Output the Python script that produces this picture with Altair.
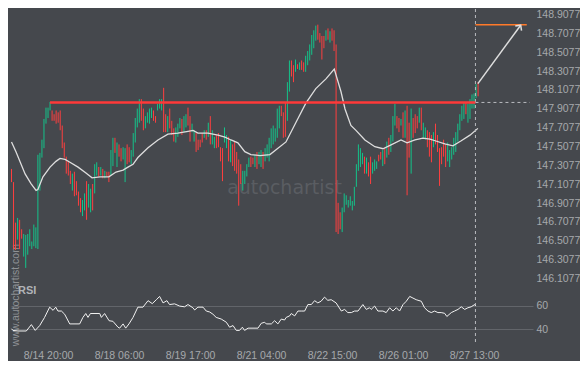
import altair as alt
import pandas as pd

# ---------------- data ----------------
# hourly candles, index 0..230 ; u = up (green), d = down (red)
hi = [
147.27,147.13,146.70,146.75,146.73,146.63,146.58,146.57,146.58,146.63,
146.50,146.68,146.65,147.42,147.44,147.58,147.80,147.92,147.92,147.98,
147.89,147.85,147.89,147.87,147.89,147.73,147.55,147.40,147.35,147.25,
147.22,147.24,147.14,147.03,146.96,146.94,147.01,147.14,147.11,147.06,
147.11,147.32,147.34,147.29,147.29,147.27,147.25,147.24,147.24,147.47,
147.60,147.60,147.55,147.53,147.49,147.50,147.49,147.53,147.50,147.47,
147.65,147.81,147.91,148.01,148.01,147.91,147.83,147.87,147.91,147.92,
147.89,147.83,147.96,148.01,148.01,148.13,147.85,147.83,147.91,147.78,
147.70,147.71,147.75,147.81,147.80,147.83,147.85,147.92,147.83,147.75,
147.68,147.65,147.58,147.58,147.65,147.68,147.68,147.76,147.83,147.68,
147.61,147.63,147.65,147.50,147.49,147.71,147.63,147.61,147.58,147.53,
147.56,147.45,147.37,147.32,147.25,147.25,147.32,147.39,147.40,147.39,
147.42,147.45,147.45,147.47,147.45,147.49,147.53,147.60,147.70,147.73,
147.70,147.91,147.94,147.94,147.87,147.97,148.19,148.42,148.42,148.37,
148.43,148.38,148.40,148.42,148.40,148.47,148.52,148.59,148.69,148.74,
148.79,148.80,148.71,148.68,148.68,148.74,148.76,148.73,148.76,148.74,
148.59,146.91,146.81,146.86,147.01,146.99,146.94,146.98,146.93,147.08,
147.32,147.53,147.49,147.44,147.40,147.39,147.34,147.40,147.34,147.37,
147.35,147.42,147.45,147.47,147.49,147.56,147.60,147.63,147.83,147.96,
147.83,147.81,147.80,147.87,147.89,147.94,147.76,147.91,147.81,147.85,
147.83,147.92,147.92,147.76,147.71,147.68,147.66,147.63,147.66,147.75,
147.63,147.49,147.50,147.58,147.53,147.55,147.47,147.50,147.60,147.66,
147.75,147.85,147.94,147.97,147.97,147.96,148.01,148.06,148.07,148.17,
148.19]
lo = [
147.13,146.42,146.41,146.52,146.42,146.53,146.34,146.22,146.36,146.45,
146.42,146.45,146.43,146.42,147.04,147.39,147.49,147.75,147.81,147.89,
147.78,147.78,147.75,147.76,147.68,147.49,147.39,147.22,147.20,147.11,
147.04,146.98,146.99,146.88,146.81,146.77,146.83,146.73,146.86,146.81,
146.83,147.01,147.20,147.19,147.20,147.17,147.17,147.19,147.13,147.20,
147.30,147.44,147.29,147.40,147.35,147.37,147.13,147.32,147.34,147.32,
147.40,147.55,147.71,147.76,147.78,147.68,147.70,147.76,147.75,147.81,
147.78,147.76,147.89,147.91,147.89,147.66,147.66,147.66,147.70,147.63,
147.56,147.55,147.61,147.70,147.63,147.66,147.71,147.73,147.56,147.66,
147.56,147.45,147.47,147.50,147.55,147.60,147.58,147.61,147.53,147.53,
147.49,147.49,147.50,147.35,147.14,147.55,147.49,147.35,147.34,147.30,
147.25,147.22,146.88,147.11,147.04,147.11,147.19,147.29,147.29,147.32,
147.29,147.27,147.32,147.29,147.27,147.35,147.39,147.35,147.49,147.53,
147.56,147.60,147.70,147.83,147.60,147.61,147.78,148.09,148.25,148.19,
148.30,148.33,148.32,148.32,148.30,148.30,148.37,148.42,148.48,148.55,
148.63,148.64,148.61,148.43,148.55,148.63,148.64,148.61,148.63,148.52,
146.60,146.58,146.63,146.60,146.81,146.89,146.86,146.88,146.83,146.88,
147.08,147.25,147.29,147.32,147.22,147.22,147.19,147.11,147.22,147.25,
147.27,147.35,147.37,147.30,147.32,147.39,147.42,147.45,147.56,147.73,
147.70,147.66,147.73,147.60,147.60,146.99,147.39,147.22,147.60,147.65,
147.70,147.76,147.68,147.60,147.58,147.50,147.40,147.34,147.50,147.53,
147.45,147.09,147.32,147.40,147.29,147.35,147.29,147.37,147.42,147.45,
147.56,147.68,147.78,147.80,147.85,147.76,147.80,147.91,147.91,148.02,
148.04]
direction = ("dddudduuuu" "uuuuuuuuuu" "dddddddddd" "udddduuduu" "duudududdu"
             "ududduuddu" "uuuudduuuu" "dduuuddudd" "duuuduuddu" "uddddududu"
             "udddduudud" "dddduuuudd" "uduuduuuuu" "uuuddduudd" "ududduuuuu"
             "uddddududd" "ddduuuuuuu" "uuuududduu" "uddududuuu" "ddududdudd"
             "duduudddud" "ddddduuuuu" "uuuuduuuuu" "d")

ma_idx = [0, 2.2, 6.7, 9.6, 12.1, 13, 15.5, 19, 21.9, 23.9, 26.4, 28.8, 32.8, 36.7,
          39.7, 43.6, 48, 51.5, 55, 57.4, 59.9, 62.3, 67.3, 72.2, 77.1, 82, 87, 89.5,
          91.9, 96.8, 101.8, 105.2, 108.2, 111.6, 115, 118, 122.5, 127.4, 130.4, 135.3,
          140.2, 145.1, 150, 155, 159.1, 162.4, 164.4, 167.3, 169.8, 174.2, 179.1, 183.1,
          187.1, 192, 195, 198.9, 202.8, 206.3, 209.2, 213.6, 217.6, 221.5, 226, 229.9]
ma_val = [147.556, 147.453, 147.217, 147.114, 147.042, 147.052, 147.186, 147.289, 147.350,
          147.381, 147.371, 147.340, 147.289, 147.227, 147.175, 147.186, 147.186, 147.237,
          147.258, 147.289, 147.319, 147.391, 147.494, 147.577, 147.638, 147.649, 147.669,
          147.679, 147.649, 147.649, 147.628, 147.607, 147.577, 147.546, 147.453, 147.422,
          147.412, 147.422, 147.474, 147.556, 147.762, 147.968, 148.122, 148.225, 148.328,
          148.091, 147.906, 147.731, 147.679, 147.577, 147.505, 147.484, 147.525, 147.577,
          147.546, 147.577, 147.597, 147.587, 147.566, 147.535, 147.515, 147.566, 147.628,
          147.700]

rsi_idx = [0, 0.7, 3.2, 7.3, 9.8, 11.7, 13.9, 16.3, 18.8, 20.5,
           21.8, 22.9, 24.6, 26.2, 28.7, 33.6, 35.2, 36.6, 37.7, 38.9,
           43.5, 44.3, 45.9, 48.1, 50.0, 52.5, 53.3, 55.0, 56.3, 57.9,
           59.9, 62.3, 64.8, 67.3, 69.4, 71.4, 73.0, 74.7, 76.6, 77.9,
           80.4, 82.9, 85.3, 87.0, 89.4, 90.3, 91.9, 94.4, 96.0, 97.7,
           99.3, 100.9, 103.4, 105.9, 107.5, 109.2, 110.8, 112.4, 113.8, 114.9,
           116.6, 121.5, 123.1, 124.8, 125.6, 128.1, 129.7, 131.3, 133.0, 134.6,
           135.4, 137.1, 137.9, 139.6, 141.2, 142.8, 144.5, 146.1, 147.8, 149.4,
           151.0, 152.6, 154.3, 155.9, 157.6, 160.0, 162.6, 164.2, 165.8, 167.5,
           169.1, 170.8, 173.2, 174.9, 176.5, 177.3, 179.0, 180.6, 183.1, 184.7,
           186.4, 188.0, 189.7, 191.3, 193.0, 194.6, 196.3, 197.9, 199.5, 202.0,
           203.6, 205.3, 206.9, 208.6, 210.2, 211.8, 213.5, 214.6, 216.8, 218.4,
           220.1, 221.7, 223.4, 225.0, 226.6, 228.3, 228.8]
rsi_val = [40.3, 38.9, 38.4, 38.4, 43.8, 38.9, 43.0, 49.9, 58.6, 55.9,
           58.6, 55.3, 55.3, 52.6, 44.4, 44.4, 49.9, 53.2, 49.9, 53.2,
           53.2, 49.9, 53.2, 47.1, 46.6, 41.6, 40.8, 44.4, 40.8, 44.4,
           49.9, 58.6, 58.6, 64.1, 61.6, 64.9, 67.7, 62.2, 64.1, 60.8,
           61.4, 59.5, 58.9, 60.8, 58.1, 56.2, 58.6, 58.6, 55.3, 54.5,
           52.6, 49.9, 48.5, 45.8, 41.6, 43.0, 38.9, 38.9, 41.6, 38.9,
           40.8, 40.8, 44.9, 45.8, 44.4, 44.4, 47.1, 44.4, 48.5, 47.7,
           49.9, 51.2, 53.2, 51.2, 55.3, 55.3, 55.3, 60.8, 60.8, 64.1,
           62.2, 63.6, 67.1, 64.4, 64.9, 62.2, 55.3, 56.7, 54.0, 54.0,
           55.3, 55.3, 60.8, 56.7, 58.1, 56.7, 59.5, 55.3, 55.3, 54.0,
           58.1, 55.3, 58.1, 55.3, 60.8, 63.6, 67.7, 66.3, 64.9, 63.6,
           58.1, 55.3, 54.0, 55.3, 54.0, 54.0, 53.4, 50.7, 54.0, 55.3,
           56.7, 58.9, 56.7, 58.1, 58.9, 60.8, 59.5]

x_label_idx = [18, 53, 88, 123, 158, 193, 228]
x_labels = ["8/14 20:00", "8/18 06:00", "8/19 17:00", "8/21 04:00",
            "8/22 15:00", "8/26 01:00", "8/27 13:00"]
price_ticks = [146.1077, 146.3077, 146.5077, 146.7077, 146.9077, 147.1077, 147.3077,
               147.5077, 147.7077, 147.9077, 148.1077, 148.3077, 148.5077, 148.7077,
               148.9077]
rsi_ticks = [40, 60]

resistance_level = 147.975
resistance_start = 19
now_idx = 228.7
projection_end = 255.5
target_level = 148.80
target_end = 254
arrow_start = [229.9, 148.174]
arrow_end = [251.0, 148.794]

# ---------------- styles ----------------
BG = "#45484d"
TEXT = "#a5a8ac"
GREEN = "#14c38a"
RED = "#ff3f3f"
FONT = "Liberation Sans"

x_scale = alt.Scale(domain=[-0.25, 257.07], nice=False, zero=False)
label_expr = ("[" + ",".join("'%s'" % s for s in x_labels) + "][indexof(["
              + ",".join(str(v) for v in x_label_idx) + "], datum.value)]")
x_axis = alt.Axis(values=x_label_idx, labelExpr=label_expr, grid=False, domain=False,
                  ticks=False, labelPadding=5, labelFlush=False, labelOverlap=False,
                  title=None)


def X(field="i"):
    return alt.X(f"{field}:Q", scale=x_scale, axis=x_axis)


price_scale = alt.Scale(domain=[146.1077, 148.9077], range=[269.5, 5.5], nice=False, zero=False)
price_axis = alt.Axis(orient="right", values=price_ticks, format=".4f", grid=False,
                      domain=False, ticks=False, labelPadding=3, title=None)


def PY(field="p"):
    return alt.Y(f"{field}:Q", scale=price_scale, axis=price_axis)


rsi_scale = alt.Scale(domain=[40, 60], range=[320.1, 296.5], nice=False, zero=False)
rsi_axis = alt.Axis(orient="right", values=rsi_ticks, format="d", grid=True,
                    gridColor="#62656a", gridWidth=1, domain=False, ticks=False,
                    labelPadding=3, title=None)


def RY(field="r"):
    return alt.Y(f"{field}:Q", scale=rsi_scale, axis=rsi_axis)


# ---------------- tables ----------------
candles = pd.DataFrame({"i": list(range(len(hi))), "hi": hi, "lo": lo, "dir": list(direction)})
ma_df = pd.DataFrame({"i": ma_idx, "p": ma_val})
rsi_df = pd.DataFrame({"i": rsi_idx, "r": rsi_val})
res_df = pd.DataFrame({"i": [resistance_start], "i2": [now_idx], "p": [resistance_level]})
proj_df = pd.DataFrame({"i": [now_idx], "i2": [projection_end], "p": [resistance_level]})
target_df = pd.DataFrame({"i": [now_idx], "i2": [target_end], "p": [target_level]})
arrow_df = pd.DataFrame({"i": [arrow_start[0]], "p": [arrow_start[1]],
                         "i2": [arrow_end[0]], "p2": [arrow_end[1]]})
head_df = pd.DataFrame({"i": [arrow_end[0]], "p": [arrow_end[1]]})
now_df = pd.DataFrame({"i": [now_idx]})
wm_df = pd.DataFrame({"i": [134.6], "p": [147.00], "t": ["autochartist"]})
wm2_df = pd.DataFrame({"i": [2.2], "p": [145.39], "t": ["www.autochartist.com"]})
rsi_lab_df = pd.DataFrame({"i": [3.2], "r": [72.4], "t": ["RSI"]})

# ---------------- layers ----------------
wm = alt.Chart(wm_df).mark_text(font="DejaVu Sans", fontSize=19, color="#5a5d62",
                                align="center", baseline="alphabetic").encode(
    x=X(), y=PY(), text="t:N")
wm2 = alt.Chart(wm2_df).mark_text(font=FONT, fontSize=10.5, color="#8e9195", angle=270,
                                  align="left", baseline="middle").encode(
    x=X(), y=PY(), text="t:N")
candle_layer = alt.Chart(candles).mark_rule(strokeWidth=1.0).encode(
    x=X(), y=PY("lo"), y2=alt.Y2("hi:Q"),
    color=alt.Color("dir:N", scale=alt.Scale(domain=["u", "d"], range=[GREEN, RED]), legend=None))
ma_layer = alt.Chart(ma_df).mark_line(color="#dedede", strokeWidth=1.3).encode(x=X(), y=PY())
now_layer = alt.Chart(now_df).mark_rule(color="#b9bcc0", strokeWidth=1, strokeDash=[3, 3]).encode(x=X())
res_layer = alt.Chart(res_df).mark_rule(color="#ff3939", strokeWidth=2.6).encode(
    x=X(), x2=alt.X2("i2:Q"), y=PY())
proj_layer = alt.Chart(proj_df).mark_rule(color="#b9bcc0", strokeWidth=1, strokeDash=[3, 3]).encode(
    x=X(), x2=alt.X2("i2:Q"), y=PY())
target_layer = alt.Chart(target_df).mark_rule(color="#ff7a2a", strokeWidth=1.5).encode(
    x=X(), x2=alt.X2("i2:Q"), y=PY())
arrow_layer = alt.Chart(arrow_df).mark_rule(color="#dedede", strokeWidth=1.5).encode(
    x=X(), y=PY(), x2=alt.X2("i2:Q"), y2=alt.Y2("p2:Q"))
head_layer = alt.Chart(head_df).mark_point(shape="M-1,1L0,0L1,1", angle=36, size=60,
                                           filled=False, color="#dedede", strokeWidth=1.5,
                                           opacity=1).encode(x=X(), y=PY())

price = alt.layer(wm, wm2, candle_layer, ma_layer, now_layer, res_layer, proj_layer,
                  target_layer, arrow_layer, head_layer)

rsi_line = alt.Chart(rsi_df).mark_line(color="#f2f2f2", strokeWidth=1).encode(x=X(), y=RY())
rsi_text = alt.Chart(rsi_lab_df).mark_text(font=FONT, fontSize=11, fontWeight="bold",
                                           color="#b0b3b7", align="left",
                                           baseline="middle").encode(x=X(), y=RY(), text="t:N")
rsi = alt.layer(rsi_line, rsi_text)

chart = alt.layer(price, rsi).resolve_scale(y="independent").properties(
    width=522, height=336, padding=0, background=BG
).configure_view(stroke=None).configure_axis(
    labelFont=FONT, labelFontSize=10.5, labelColor=TEXT
)

chart.save("out.html", embed_options={"renderer": "svg", "actions": False})
